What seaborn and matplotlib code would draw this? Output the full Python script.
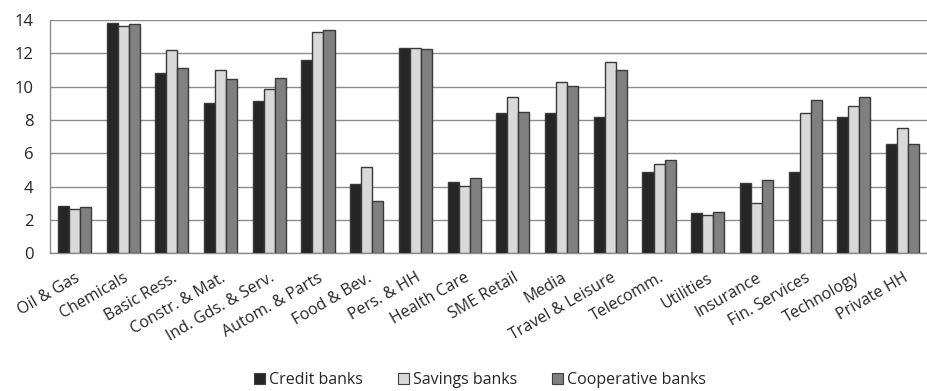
import matplotlib
matplotlib.use("Agg")
import matplotlib.pyplot as plt
import seaborn as sns
import pandas as pd
from matplotlib.patches import Patch

sectors = ["Oil & Gas", "Chemicals", "Basic Ress.", "Constr. & Mat.", "Ind. Gds. & Serv.",
           "Autom. & Parts", "Food & Bev.", "Pers. & HH", "Health Care", "SME Retail",
           "Media", "Travel & Leisure", "Telecomm.", "Utilities", "Insurance",
           "Fin. Services", "Technology", "Private HH"]
credit_banks = [2.86, 13.82, 10.8, 9.0, 9.16, 11.58, 4.14, 12.34, 4.3, 8.4,
                8.44, 8.18, 4.88, 2.44, 4.2, 4.9, 8.16, 6.58]
savings_banks = [2.64, 13.64, 12.18, 11.02, 9.86, 13.3, 5.16, 12.3, 4.06, 9.36,
                 10.3, 11.46, 5.34, 2.32, 3.04, 8.4, 8.86, 7.52]
cooperative_banks = [2.8, 13.76, 11.1, 10.46, 10.5, 13.4, 3.12, 12.24, 4.52, 8.46,
                     10.04, 11.0, 5.58, 2.48, 4.4, 9.22, 9.36, 6.58]
groups = ["Credit banks", "Savings banks", "Cooperative banks"]
colors = ["#262626", "#d9d9d9", "#808080"]

df = pd.DataFrame({
    "sector": sectors * 3,
    "value": credit_banks + savings_banks + cooperative_banks,
    "group": [g for g in groups for _ in sectors],
})

sns.set_theme(style="white")
plt.rcParams["font.family"] = ["Open Sans", "DejaVu Sans"]

fig = plt.figure(figsize=(9.28, 3.91), dpi=100)
ax = fig.add_axes([50 / 928, 1 - 253.3 / 391, 877 / 928, 233.3 / 391])

sns.barplot(data=df, x="sector", y="value", hue="group", palette=colors,
            hue_order=groups, order=sectors, width=0.68, gap=0,
            edgecolor="#3a3a3a", linewidth=1.0, legend=False, ax=ax, zorder=3)

ax.set_ylim(0, 14)
ax.set_xlim(-0.5, len(sectors) - 0.5)
ax.set_yticks(range(0, 15, 2))
ax.yaxis.grid(True, color="#8c8c8c", linewidth=1.0, zorder=0)
ax.set_axisbelow(True)
ax.set_xlabel("")
ax.set_ylabel("")
for s in ["top", "right"]:
    ax.spines[s].set_visible(False)
for s in ["left", "bottom"]:
    ax.spines[s].set_color("#8c8c8c")
    ax.spines[s].set_linewidth(1.0)
ax.tick_params(axis="y", labelsize=12, length=0, pad=12)
ax.tick_params(axis="x", labelsize=11.5, length=0, pad=12)
ax.set_xticks(range(len(sectors)))
ax.set_xticklabels(sectors, rotation=30, ha="right", rotation_mode="anchor")

handles = [Patch(facecolor=c, edgecolor="#404040", linewidth=0.8) for c in colors]
fig.legend(handles, groups, loc="center", bbox_to_anchor=(480 / 928, 1 - 380 / 391),
           ncol=3, frameon=False, fontsize=11.5, handlelength=0.7, handleheight=0.7,
           handletextpad=0.25, columnspacing=2.2, borderpad=0.1)

fig.savefig("out.png", dpi=100)
